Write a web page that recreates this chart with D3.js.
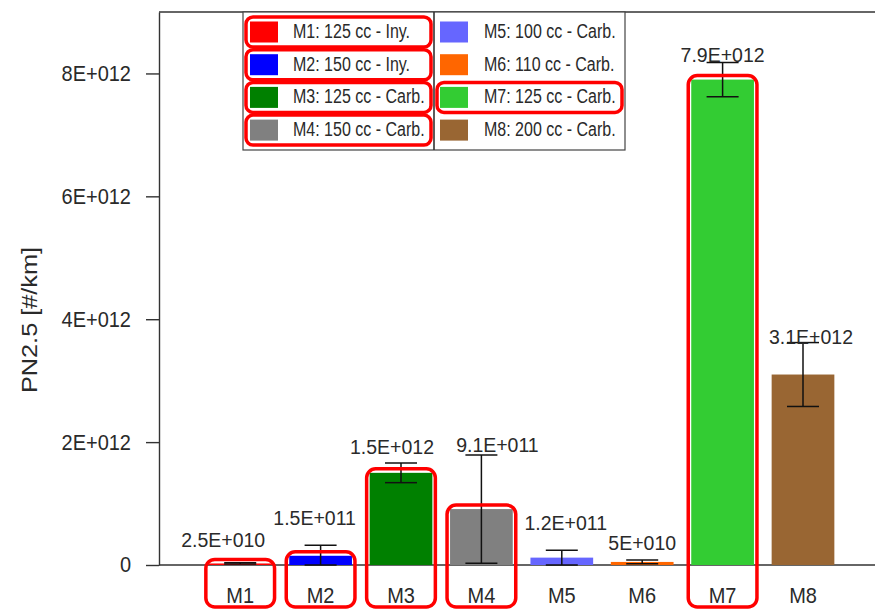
<!DOCTYPE html>
<html>
<head>
<meta charset="utf-8">
<script src="https://cdn.jsdelivr.net/npm/d3@7"></script>
<style>
  html, body { margin: 0; padding: 0; background: #fff; }
  svg { display: block; font-family: "Liberation Sans", Arial, sans-serif; }
</style>
</head>
<body>
<svg id="chart" width="875" height="609"></svg>
<script>
// Particle number (PN2.5) per km for eight motorcycles
const categories = ["M1", "M2", "M3", "M4", "M5", "M6", "M7", "M8"];
const legendNames = [
  "M1: 125 cc - Iny.", "M2: 150 cc - Iny.", "M3: 125 cc - Carb.", "M4: 150 cc - Carb.",
  "M5: 100 cc - Carb.", "M6: 110 cc - Carb.", "M7: 125 cc - Carb.", "M8: 200 cc - Carb."
];
const values = [2.5e10, 1.5e11, 1.5e12, 9.1e11, 1.2e11, 5e10, 7.9e12, 3.1e12];
const errors = [1e10, 1.7e11, 1.6e11, 8.8e11, 1.2e11, 3e10, 2.8e11, 5.2e11];
const valueLabels = ["2.5E+010", "1.5E+011", "1.5E+012", "9.1E+011", "1.2E+011", "5E+010", "7.9E+012", "3.1E+012"];
const yTickValues = [0, 2e12, 4e12, 6e12, 8e12];
const yTickLabels = ["0", "2E+012", "4E+012", "6E+012", "8E+012"];
const highlighted = ["M1", "M2", "M3", "M4", "M7"];

const colors = ["#ff0000", "#0000ff", "#008000", "#808080", "#6666ff", "#ff6600", "#33cc33", "#996633"];

// label nudges (px) relative to bar centre and error-bar top
const labelNudge = [[-17, -16], [-6, -20], [-9, -9], [16, -3], [4, -20], [0, -10], [0, 0], [8, 1]];

const svg = d3.select("#chart");
const plotLeft = 159, plotTop = 12, plotBottom = 565, plotRight = 900;
const textColor = "#2a2a2a";
const stretch = 1.08;

const y = d3.scaleLinear().domain([0, 9e12]).range([plotBottom, plotTop]);
const x = d3.scaleBand().domain(categories).range([200, 843.2])
  .paddingInner(0.22).paddingOuter(0.11);

// frame: top border and bottom baseline
svg.append("line").attr("x1", plotLeft).attr("x2", plotRight).attr("y1", plotTop).attr("y2", plotTop)
  .attr("stroke", "#333").attr("stroke-width", 1.4);
svg.append("line").attr("x1", plotLeft).attr("x2", plotRight).attr("y1", plotBottom).attr("y2", plotBottom)
  .attr("stroke", "#333").attr("stroke-width", 1.4);

// y axis
const yAxis = d3.axisLeft(y).tickValues(yTickValues)
  .tickFormat((d, i) => yTickLabels[i]).tickSize(13).tickSizeOuter(0).tickPadding(15);
const yg = svg.append("g").attr("transform", `translate(${plotLeft},0)`).call(yAxis);
yg.select(".domain").attr("stroke", "#333").attr("stroke-width", 1.4);
yg.selectAll(".tick line").attr("stroke", "#333").attr("stroke-width", 1.4);
yg.selectAll(".tick text").attr("font-size", 20).attr("fill", textColor)
  .attr("font-family", "Liberation Sans, Arial, sans-serif")
  .attr("transform", `scale(1,${stretch})`);

// y axis title
svg.append("text")
  .attr("transform", `translate(37,320) scale(1,1.15) rotate(-90)`)
  .attr("text-anchor", "middle").attr("font-size", 22).attr("fill", textColor)
  .text("PN2.5 [#/km]");

// bars
const data = categories.map((c, i) => ({
  cat: c, v: values[i], e: errors[i], label: valueLabels[i], color: colors[i], nudge: labelNudge[i]
}));

svg.append("g").selectAll("rect").data(data).join("rect")
  .attr("x", d => x(d.cat)).attr("width", x.bandwidth())
  .attr("y", d => y(d.v)).attr("height", d => y(0) - y(d.v))
  .attr("fill", d => d.color);

// error bars
const eg = svg.append("g").attr("stroke", "#111").attr("stroke-width", 1.5);
data.forEach(d => {
  const cx = x(d.cat) + x.bandwidth() / 2;
  const y1 = y(d.v + d.e), y2 = Math.min(y(d.v - d.e), plotBottom);
  eg.append("line").attr("x1", cx).attr("x2", cx).attr("y1", y1).attr("y2", y2);
  eg.append("line").attr("x1", cx - 16).attr("x2", cx + 16).attr("y1", y1).attr("y2", y1);
  eg.append("line").attr("x1", cx - 16).attr("x2", cx + 16).attr("y1", y2).attr("y2", y2);
});

// value labels
svg.append("g").selectAll("text").data(data).join("text")
  .attr("transform", d => {
    const cx = x(d.cat) + x.bandwidth() / 2 + d.nudge[0];
    const by = y(d.v + d.e) + d.nudge[1];
    return `translate(${cx},${by}) scale(1,${stretch})`;
  })
  .attr("text-anchor", "middle").attr("font-size", 19.5).attr("fill", textColor)
  .text(d => d.label);

// category labels
svg.append("g").selectAll("text").data(data).join("text")
  .attr("transform", d => `translate(${x(d.cat) + x.bandwidth() / 2},603) scale(1,${stretch})`)
  .attr("text-anchor", "middle").attr("font-size", 20).attr("fill", textColor)
  .text(d => d.cat);

// legend: two columns of four entries
const legX = 243, legY = 12, legW = 382, legH = 138, legDiv = 434;
const rowY = i => 32 + (i % 4) * 32.7;
const leg = svg.append("g");
leg.append("rect").attr("x", legX).attr("y", legY).attr("width", legW).attr("height", legH)
  .attr("fill", "#fff").attr("stroke", "#444").attr("stroke-width", 1.2);
leg.append("line").attr("x1", legDiv).attr("x2", legDiv).attr("y1", legY).attr("y2", legY + legH)
  .attr("stroke", "#333").attr("stroke-width", 1.6);
data.forEach((d, i) => {
  const col = i < 4 ? 0 : 1;
  const sx = col === 0 ? 250 : 440;
  const tx = col === 0 ? 293 : 484;
  const cy = rowY(i);
  leg.append("rect").attr("x", sx).attr("y", cy - 10.5).attr("width", 28).attr("height", 21)
    .attr("fill", d.color);
  leg.append("text")
    .attr("transform", `translate(${tx},${cy + 5.8}) scale(1,1.25)`)
    .attr("font-size", 16).attr("fill", textColor)
    .text(legendNames[i]);
});

// red highlight frames
const hl = svg.append("g").attr("fill", "none").attr("stroke", "#ff0000").attr("stroke-width", 3.5);
data.filter(d => highlighted.includes(d.cat)).forEach(d => {
  const i = categories.indexOf(d.cat);
  const cy = rowY(i);
  const x0 = i < 4 ? 246 : 437;
  const x1 = i < 4 ? 431 : 622;
  hl.append("rect").attr("x", x0).attr("y", cy - 15).attr("width", x1 - x0).attr("height", 30)
    .attr("rx", 7);
  const barTop = y(d.v) - 4;
  hl.append("rect").attr("x", x(d.cat) - 3).attr("y", barTop)
    .attr("width", x.bandwidth() + 6).attr("height", 607 - barTop).attr("rx", 9);
});
</script>
</body>
</html>
